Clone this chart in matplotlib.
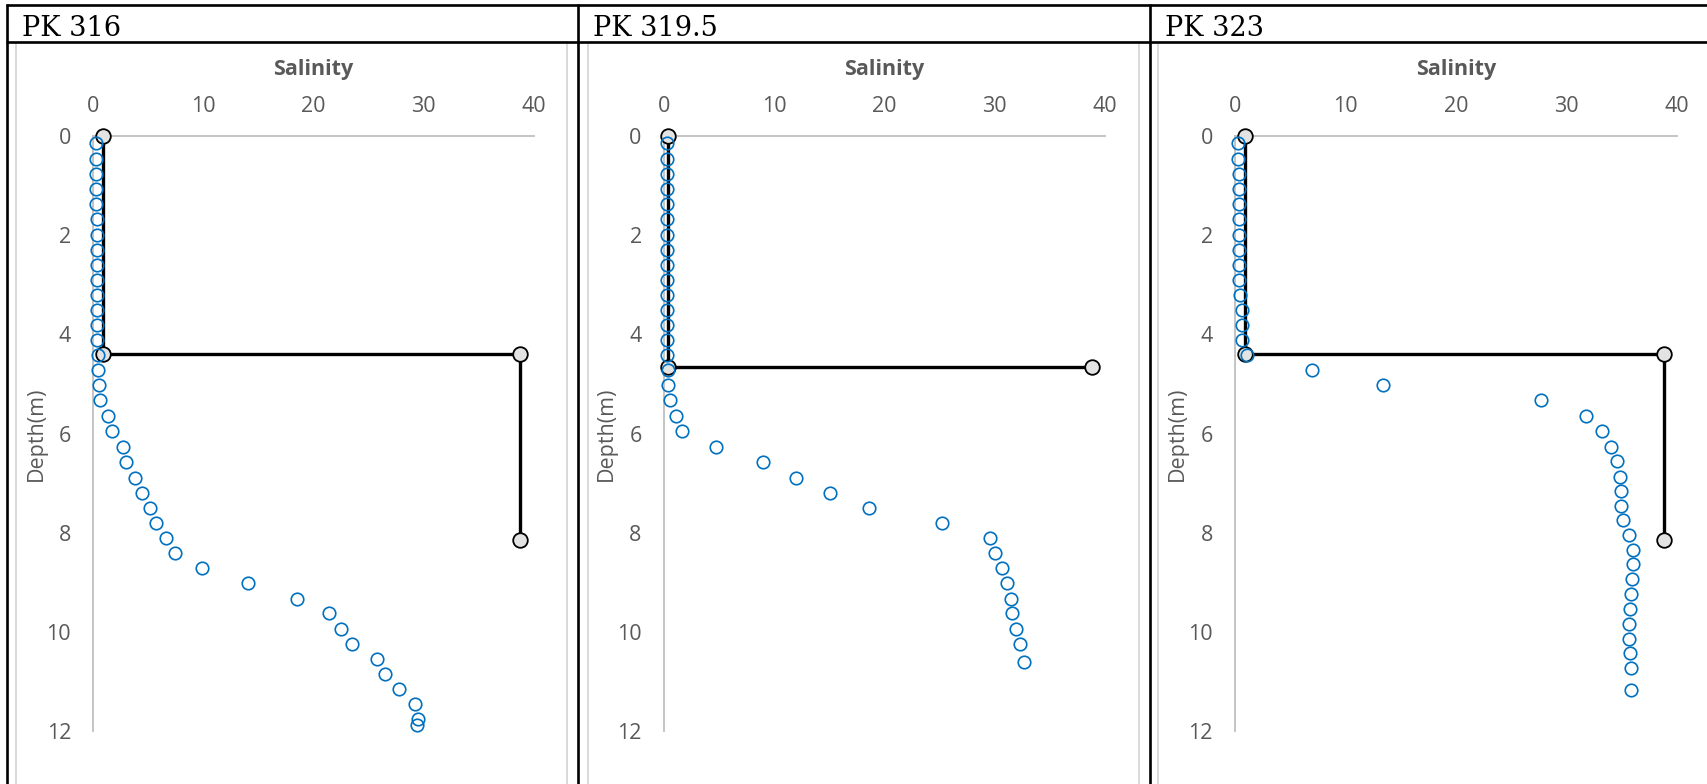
import matplotlib
matplotlib.use("Agg")
import matplotlib.pyplot as plt
from matplotlib.patches import Rectangle

plt.rcParams["font.family"] = ["Open Sans", "DejaVu Sans"]

# ---- data (salinity vs depth) ----
titles = ["PK 316", "PK 319.5", "PK 323"]

depth_1 = [0.15, 0.46, 0.77, 1.07, 1.38, 1.68, 1.99, 2.29, 2.6, 2.9, 3.2, 3.51, 3.81, 4.11, 4.42,
           4.72, 5.03, 5.33, 5.64, 5.95, 6.27, 6.58, 6.89, 7.19, 7.5, 7.8, 8.11, 8.41, 8.72, 9.02,
           9.33, 9.63, 9.94, 10.24, 10.54, 10.85, 11.15, 11.45, 11.75, 11.88]
sal_1 = [0.22, 0.25, 0.27, 0.28, 0.29, 0.3, 0.3, 0.31, 0.32, 0.33, 0.34, 0.36, 0.37, 0.38, 0.4,
         0.4, 0.49, 0.63, 1.35, 1.68, 2.67, 2.97, 3.76, 4.38, 5.14, 5.73, 6.59, 7.41, 9.92, 14.07,
         18.52, 21.45, 22.54, 23.49, 25.77, 26.46, 27.74, 29.23, 29.52, 29.42]

depth_2 = [0.15, 0.46, 0.77, 1.07, 1.38, 1.68, 1.99, 2.29, 2.6, 2.9, 3.2, 3.51, 3.81, 4.11, 4.42,
           4.72, 5.03, 5.33, 5.64, 5.95, 6.27, 6.58, 6.89, 7.19, 7.5, 7.8, 8.11, 8.41, 8.72, 9.02,
           9.33, 9.63, 9.94, 10.24, 10.6]
sal_2 = [0.26, 0.26, 0.27, 0.27, 0.27, 0.27, 0.28, 0.28, 0.28, 0.28, 0.29, 0.29, 0.29, 0.3, 0.3,
         0.33, 0.33, 0.59, 1.09, 1.68, 4.69, 8.98, 11.98, 15.08, 18.61, 25.25, 29.57, 30.03, 30.69, 31.16,
         31.49, 31.55, 31.91, 32.28, 32.64]

depth_3 = [0.15, 0.46, 0.77, 1.07, 1.38, 1.68, 1.99, 2.29, 2.6, 2.9, 3.2, 3.51, 3.81, 4.11, 4.42,
           4.72, 5.03, 5.33, 5.64, 5.95, 6.27, 6.56, 6.87, 7.16, 7.46, 7.75, 8.05, 8.35, 8.64, 8.94,
           9.24, 9.54, 9.84, 10.14, 10.43, 10.73, 11.17]
sal_3 = [0.26, 0.26, 0.33, 0.33, 0.33, 0.33, 0.33, 0.36, 0.36, 0.39, 0.49, 0.59, 0.62, 0.66, 1.08,
         6.96, 13.37, 27.72, 31.72, 33.17, 33.99, 34.58, 34.84, 34.91, 34.91, 35.14, 35.66, 35.99, 36.06, 35.89,
         35.8, 35.76, 35.66, 35.7, 35.76, 35.83, 35.86]

# black reference line (step profile)
ref_sal = [[0.9, 0.9, 38.8, 38.8], [0.4, 0.4, 38.85], [0.9, 0.9, 38.85, 38.85]]
ref_depth = [[0, 4.4, 4.4, 8.15], [0, 4.65, 4.65], [0, 4.4, 4.4, 8.15]]

depths = [depth_1, depth_2, depth_3]
sals = [sal_1, sal_2, sal_3]

x_ticks = [0, 10, 20, 30, 40]
y_ticks = [0, 2, 4, 6, 8, 10, 12]

# ---- layout in pixels ----
W, H = 1707, 784
fig = plt.figure(figsize=(W / 100, H / 100), dpi=100)

bg = fig.add_axes([0, 0, 1, 1])
bg.set_xlim(0, W); bg.set_ylim(H, 0); bg.axis("off")

GRID = "#d9d9d9"
# chart-area frames
for x0, x1 in [(16, 567), (588, 1139), (1158, 1720)]:
    bg.add_patch(Rectangle((x0, 42), x1 - x0, 760, fill=False, ec=GRID, lw=1.4))
# table lines
bg.plot([6, W], [5, 5], color="k", lw=1.9, solid_capstyle="butt")
bg.plot([6, W], [41.7, 41.7], color="k", lw=1.9, solid_capstyle="butt")
for xv in [7.3, 578.3, 1150]:
    bg.plot([xv, xv], [4, H], color="k", lw=1.9, solid_capstyle="butt")

title_x = [22, 593, 1165]
for t, tx in zip(titles, title_x):
    bg.text(tx, 36, t, fontsize=19.5, family="DejaVu Serif", ha="left", va="baseline", color="k")

axes_px = [(93.3, 533.6), (663.9, 1104.7), (1235.0, 1677.0)]
y_top, y_bot = 136.0, 731.0

AXC = "#bfbfbf"
TXT = "#595959"
for i in range(3):
    xa, xb = axes_px[i]
    ax = fig.add_axes([xa / W, 1 - y_bot / H, (xb - xa) / W, (y_bot - y_top) / H])
    ax.set_facecolor("none")
    ax.set_xlim(0, 40); ax.set_ylim(12, 0)
    for s in ["right", "bottom"]:
        ax.spines[s].set_visible(False)
    for s in ["left", "top"]:
        ax.spines[s].set_color(AXC); ax.spines[s].set_linewidth(1.3)
    ax.xaxis.tick_top()
    ax.set_xticks(x_ticks); ax.set_yticks(y_ticks)
    ax.tick_params(axis="both", length=0, labelsize=15.5, labelcolor=TXT)
    ax.tick_params(axis="x", pad=14)
    ax.tick_params(axis="y", pad=16)
    ax.xaxis.set_label_position("top")
    ax.set_xlabel("Salinity", fontsize=15.5, fontweight="bold", color=TXT, labelpad=14.5)
    ax.set_ylabel("Depth(m)", fontsize=15.5, color=TXT, labelpad=0)

    ax.plot(ref_sal[i], ref_depth[i], color="k", lw=2.4, marker="o", ms=10.5,
            mfc="#e3e3e3", mec="k", mew=1.3, clip_on=False, zorder=3)
    ax.plot(sals[i], depths[i], ls="none", marker="o", ms=9, mfc="none",
            mec="#0070c0", mew=1.2, clip_on=False, zorder=4)

fig.savefig("out.png", dpi=100)
